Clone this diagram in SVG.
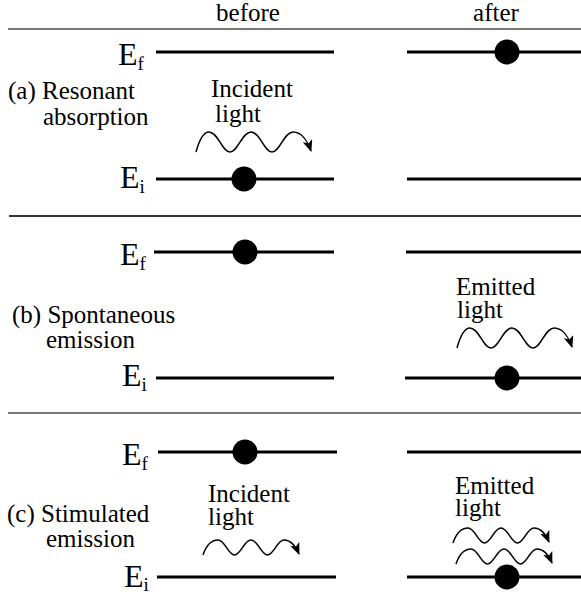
<svg xmlns="http://www.w3.org/2000/svg" width="581" height="596" viewBox="0 0 581 596">
<style>
text{fill:#000;font-size:25px;font-family:"Liberation Serif","Times New Roman",serif}
.E{font-size:32px}
.sub{font-size:19px}
.lvl{stroke:#000;stroke-width:3;fill:none}
.sep{stroke-width:2;fill:none}
.wave{stroke:#000;stroke-width:1.5;fill:none;marker-end:url(#ah)}
</style>
<defs>
<marker id="ah" viewBox="0 0 12 10" refX="11" refY="5" markerWidth="12" markerHeight="10" markerUnits="userSpaceOnUse" orient="auto">
<path d="M0,0 L12,5 L0,10 L3,5 z" fill="#000"/>
</marker>
<path id="bigwave" class="wave" d="M0,0 C3,-11 7,-20 13,-20 C22,-20 26,0 34,0 C42,0 46,-20 55,-20 C64,-20 68,0 76,0 C84,0 88,-20 97,-20 C106,-20 112,-10 115,-1"/>
<path id="smallwave" class="wave" d="M0,0 C3,-9 8,-15 15,-15 C22,-15 25,0 31.5,0 C38,0 41,-15 48,-15 C55,-15 58,0 64.5,0 C71,0 74,-15 81,-15 C88,-15 93,-8 96,-1"/>
</defs>

<g id="header">
<text x="248" y="21" text-anchor="middle">before</text>
<text x="496" y="21" text-anchor="middle">after</text>
</g>

<g id="separators">
<line class="sep" x1="8" y1="29" x2="581" y2="29" stroke="#777"/>
<line class="sep" x1="9" y1="216" x2="581" y2="216" stroke="#333"/>
<line class="sep" x1="8" y1="413" x2="581" y2="413" stroke="#777"/>
</g>

<!-- Panel (a) -->
<g id="panel-a">
<text x="8" y="99">(a) Resonant</text>
<text x="43" y="125">absorption</text>
<g id="a-before-Ef">
<text class="E" x="118" y="65">E<tspan class="sub" dy="5">f</tspan></text>
<line class="lvl" x1="156" y1="52" x2="334" y2="52"/>
</g>
<g id="a-before-Ei">
<text class="E" x="120" y="188">E<tspan class="sub" dy="5">i</tspan></text>
<line class="lvl" x1="156" y1="179" x2="334" y2="179"/>
<circle cx="244" cy="179" r="12.5"/>
</g>
<g id="a-incident">
<text x="211" y="97">Incident</text>
<text x="215" y="122">light</text>
<use href="#bigwave" x="196" y="152"/>
</g>
<g id="a-after-Ef">
<line class="lvl" x1="407" y1="52" x2="581" y2="52"/>
<circle cx="507" cy="52" r="12.5"/>
</g>
<g id="a-after-Ei">
<line class="lvl" x1="407" y1="179" x2="581" y2="179"/>
</g>
</g>

<!-- Panel (b) -->
<g id="panel-b">
<text x="12" y="323">(b) Spontaneous</text>
<text x="46" y="348">emission</text>
<g id="b-before-Ef">
<text class="E" x="120" y="265">E<tspan class="sub" dy="5">f</tspan></text>
<line class="lvl" x1="154" y1="252" x2="334" y2="252"/>
<circle cx="245" cy="252" r="12.5"/>
</g>
<g id="b-before-Ei">
<text class="E" x="122" y="386">E<tspan class="sub" dy="5">i</tspan></text>
<line class="lvl" x1="156" y1="378" x2="334" y2="378"/>
</g>
<g id="b-after-Ef">
<line class="lvl" x1="406" y1="252" x2="581" y2="252"/>
</g>
<g id="b-after-Ei">
<line class="lvl" x1="405" y1="378" x2="581" y2="378"/>
<circle cx="507" cy="378" r="12.5"/>
</g>
<g id="b-emitted">
<text x="456" y="295">Emitted</text>
<text x="457" y="318">light</text>
<use href="#bigwave" x="457" y="348"/>
</g>
</g>

<!-- Panel (c) -->
<g id="panel-c">
<text x="7" y="522">(c) Stimulated</text>
<text x="46" y="547">emission</text>
<g id="c-before-Ef">
<text class="E" x="122" y="465">E<tspan class="sub" dy="5">f</tspan></text>
<line class="lvl" x1="158" y1="452" x2="337" y2="452"/>
<circle cx="245" cy="452" r="12.5"/>
</g>
<g id="c-before-Ei">
<text class="E" x="124" y="587">E<tspan class="sub" dy="4">i</tspan></text>
<line class="lvl" x1="157" y1="577" x2="336" y2="577"/>
</g>
<g id="c-incident">
<text x="208" y="502">Incident</text>
<text x="208" y="525">light</text>
<use href="#smallwave" x="203" y="555"/>
</g>
<g id="c-after-Ef">
<line class="lvl" x1="407" y1="452" x2="581" y2="452"/>
</g>
<g id="c-after-Ei">
<line class="lvl" x1="407" y1="577" x2="581" y2="577"/>
<circle cx="507" cy="577" r="12.5"/>
</g>
<g id="c-emitted">
<text x="455" y="494">Emitted</text>
<text x="455" y="516">light</text>
<use href="#smallwave" x="453" y="543"/>
<use href="#smallwave" x="456" y="564"/>
</g>
</g>
</svg>
